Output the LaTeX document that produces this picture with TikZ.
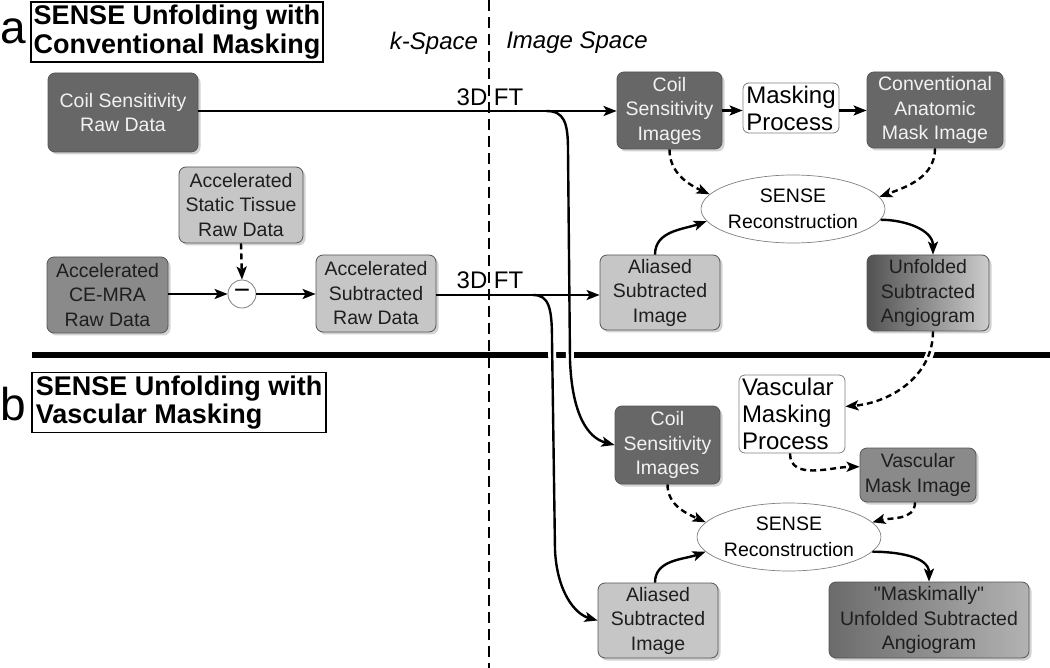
\documentclass[tikz,border=0pt]{standalone}
\usepackage{fontspec}
\setmainfont{Liberation Sans}[Ligatures=TeXOff]
\usetikzlibrary{arrows.meta,shadows,shapes.geometric}
\definecolor{darkbox}{HTML}{676767}
\definecolor{midbox}{HTML}{8A8A8A}
\definecolor{lightbox}{HTML}{C6C6C6}
\definecolor{boxline}{HTML}{555555}
\definecolor{lighttext}{HTML}{F2F2F2}
\definecolor{darktext}{HTML}{1E1E1E}
\tikzset{
  box/.style={rectangle, rounded corners=7pt, draw=boxline, line width=0.8pt,
    inner sep=0pt, align=center, font=\fontsize{19.5}{24.5}\selectfont,
    drop shadow={shadow xshift=2.5pt, shadow yshift=-2.5pt, opacity=0.35}},
  darkb/.style={box, fill=darkbox, text=lighttext},
  midb/.style={box, fill=midbox, text=darktext},
  lightb/.style={box, fill=lightbox, text=darktext},
  procbox/.style={rectangle, rounded corners=6pt, draw=gray, line width=0.8pt,
    fill=white, align=left, inner sep=0pt, font=\fontsize{24}{27}\selectfont},
  senseell/.style={ellipse, draw=gray, line width=0.7pt, fill=white,
    inner sep=0pt, align=center, minimum width=183pt, minimum height=68pt,
    font=\fontsize{19.5}{26}\selectfont},
  conn/.style={line width=2.4pt, -{Stealth[length=13pt,width=10pt,inset=3pt]}},
  dconn/.style={conn, dash pattern=on 6pt off 4pt},
  halo/.style={preaction={draw, -, white, solid, line width=8pt,
    shorten >=16pt, shorten <=3pt}},
  titlebox/.style={draw=black, line width=1.8pt, fill=white, inner xsep=2.5pt,
    inner ysep=1pt, minimum height=60pt, align=left,
    font=\bfseries\fontsize{27}{28.5}\selectfont},
  letter/.style={font=\fontsize{46}{46}\selectfont, inner sep=0pt},
  spacelabel/.style={font=\itshape\fontsize{24}{24}\selectfont},
  ftlabel/.style={font=\fontsize{24}{24}\selectfont},
  vline/.style={line width=2.4pt, dash pattern=on 11pt off 6pt},
  minusnode/.style={circle, draw=gray, line width=0.8pt, fill=white,
    minimum size=28pt, inner sep=0pt, font=\fontsize{28}{28}\selectfont}
}
\begin{document}
\begin{tikzpicture}[x=1pt,y=1pt]
\useasboundingbox (0,0) rectangle (1050,-668);
\fill[white] (0,0) rectangle (1050,-668);

% dividers
\coordinate (vtop) at (489,0);
\coordinate (vbot) at (489,-668);
\draw[vline] (vtop) -- (vbot);
\coordinate (hl) at (32,-355);
\coordinate (hr) at (1050,-355);
\draw[line width=6pt] (hl) -- (hr);

% titles
\node[letter] (la) at (13.5,-31.5) {a};
\node[titlebox, minimum width=290pt] (ta) at (177,-32) {SENSE Unfolding with\\Conventional Masking};
\node[letter] (lb) at (13,-404.5) {b};
\node[titlebox, minimum width=294pt] (tb) at (179,-402.5) {SENSE Unfolding with\\Vascular Masking};
\node[spacelabel] (ks) at (434,-43) {k-Space};
\node[spacelabel] (is) at (577,-43) {Image Space};

% part a nodes
\node[darkb, minimum width=150pt, minimum height=79pt] (coilraw) at (123,-112.5) {Coil Sensitivity\\Raw Data};
\node[darkb, minimum width=105pt, minimum height=77pt] (coilimgA) at (669.5,-110.5) {Coil\\Sensitivity\\Images};
\node[procbox, minimum width=96pt, minimum height=50pt] (maskproc) at (791,-108) {Masking\\Process};
\node[darkb, minimum width=136pt, minimum height=76pt] (convmask) at (935,-110) {Conventional\\Anatomic\\Mask Image};
\node[senseell] (senseA) at (793,-209) {SENSE\\Reconstruction};
\node[lightb, minimum width=124pt, minimum height=76pt] (static) at (241,-205) {Accelerated\\Static Tissue\\Raw Data};
\node[midb, minimum width=121pt, minimum height=76pt] (cemra) at (107.5,-295) {Accelerated\\CE-MRA\\Raw Data};
\node[minusnode] (minus) at (242,-294) {\raisebox{-2.5pt}{−}};
\node[lightb, minimum width=120pt, minimum height=77pt] (accsub) at (376,-293.5) {Accelerated\\Subtracted\\Raw Data};
\node[lightb, minimum width=120pt, minimum height=75pt] (aliasedA) at (660,-292.5) {Aliased\\Subtracted\\Image};
\node[box, left color=black!68, right color=black!20, text=darktext, minimum width=122pt, minimum height=76pt] (unfolded) at (928,-293) {Unfolded\\Subtracted\\Angiogram};

% part b nodes
\node[procbox, minimum width=106pt, minimum height=78pt, text width=100pt] (vmproc) at (792,-414) {Vascular\\Masking\\Process};
\node[darkb, minimum width=105pt, minimum height=78pt] (coilimgB) at (667.5,-445) {Coil\\Sensitivity\\Images};
\node[midb, minimum width=116pt, minimum height=54pt] (vmask) at (918,-475) {Vascular\\Mask Image};
\node[senseell] (senseB) at (789,-537) {SENSE\\Reconstruction};
\node[lightb, minimum width=120pt, minimum height=75pt] (aliasedB) at (658,-620.5) {Aliased\\Subtracted\\Image};
\node[box, left color=black!58, right color=black!30, text=darktext, minimum width=200pt, minimum height=76pt] (maskim) at (929,-620) {"Maskimally"\\Unfolded Subtracted\\Angiogram};

% branch curves (3D FT outputs to part b)
\coordinate (br1) at (546,-111);
\coordinate (br2) at (533,-295);
\draw[conn, halo] (br1) .. controls (564,-111) and (568,-122) .. (568,-150)
  -- (570,-360) .. controls (572,-415) and (588,-438) .. (coilimgB.west);
\draw[conn, halo] (br2) .. controls (549,-295) and (552,-308) .. (552,-340)
  -- (555,-550) .. controls (557,-592) and (575,-614) .. (aliasedB.west);

% main horizontal flows
\draw[conn] (coilraw.east |- br1) -- (coilimgA.west |- br1);
\node[ftlabel] (ft1) at (490,-97.5) {3D FT};
\draw[conn] (accsub.east |- br2) -- (aliasedA.west |- br2);
\node[ftlabel] (ft2) at (490,-280) {3D FT};
\draw[conn] (coilimgA.east) -- (maskproc.west |- coilimgA.east);
\draw[conn] (maskproc.east |- coilimgA.east) -- (convmask.west |- coilimgA.east);
\draw[conn] (cemra.east |- minus) -- (minus.west);
\draw[conn] (minus.east) -- (accsub.west |- minus);
\draw[dconn] (static.south) -- (minus.north);

% part a reconstruction
\draw[dconn] (coilimgA.south) to[out=-90, in=155] (senseA.170);
\draw[dconn] (convmask.south) to[out=-90, in=20] (senseA.8);
\draw[conn] ([xshift=-5pt]aliasedA.north) to[out=90, in=200] (senseA.188);
\draw[conn] (senseA.353) to[out=0, in=90] ([xshift=5pt]unfolded.north);

% link a -> b
\draw[dconn, halo] ([xshift=5pt]unfolded.south) to[out=-90, in=5] (vmproc.8);
\draw[dconn] ([xshift=-2pt]vmproc.south) to[out=-90, in=180] (vmask.172);

% part b reconstruction
\draw[dconn] (coilimgB.south) to[out=-90, in=155] (senseB.170);
\draw[dconn] ([xshift=-3pt]vmask.south) to[out=-90, in=15] (senseB.10);
\draw[conn] ([xshift=-3pt]aliasedB.north) to[out=90, in=200] (senseB.190);
\draw[conn] (senseB.350) to[out=0, in=90] (maskim.north);
\end{tikzpicture}
\end{document}
